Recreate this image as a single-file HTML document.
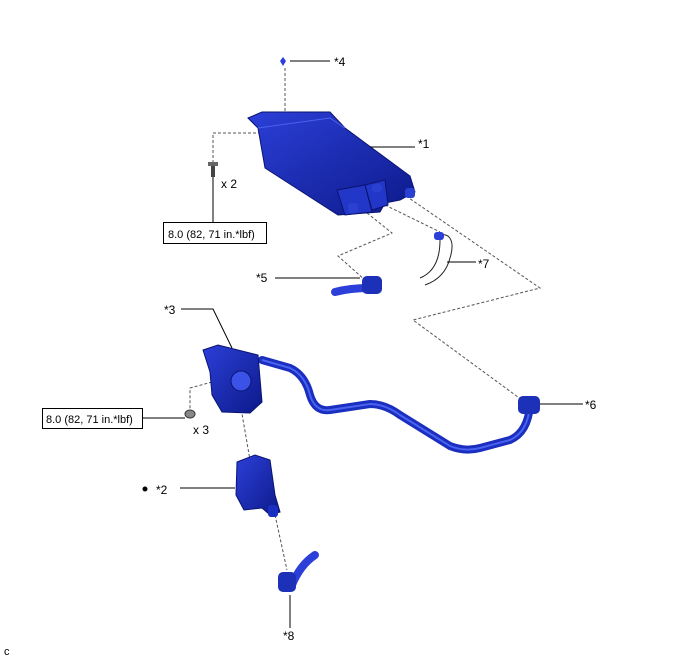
<!DOCTYPE html>
<html><head><style>
body{margin:0;background:#fff;}
svg{display:block;font-family:"Liberation Sans",sans-serif;}
</style></head><body>
<svg width="688" height="658" viewBox="0 0 688 658">
<defs>
<linearGradient id="g" x1="0" y1="0" x2="1" y2="1"><stop offset="0" stop-color="#2c3fd8"/><stop offset="1" stop-color="#0c1a8a"/></linearGradient>
</defs>
<g fill="none" stroke="#555" stroke-width="1" stroke-dasharray="3,2">
<path d="M285,68 V120"/>
<path d="M213,163 V133 H262"/>
<path d="M367,213 L392,233 L338,256 L365,280"/>
<path d="M406,196 L540,288 L413,320 L522,400"/>
<path d="M385,205 L440,232"/>
<path d="M212,382 L190,388 V410"/>
<path d="M237,385 L250,460"/>
<path d="M275,515 L287,570"/>
</g>
<!-- canister -->
<path d="M248,118 L262,112 L330,112 L345,128 L372,148 L410,176 L415,192 L400,200 L385,203 L380,212 L338,215 L265,168 L258,128 Z" fill="url(#g)" stroke="#0a1470"/>
<path d="M258,128 L330,118 L345,128" fill="none" stroke="#4a62f0" stroke-width="1"/>
<path d="M337,190 L365,185 L372,212 L345,215 Z" fill="#2236c8" stroke="#0a1470"/>
<path d="M365,185 L385,180 L388,205 L372,210 Z" fill="#2236c8" stroke="#0a1470"/>
<rect x="348" y="203" width="10" height="10" rx="3" fill="#2a40d0"/>
<rect x="372" y="184" width="10" height="8" rx="3" fill="#2a40d0"/>
<rect x="405" y="188" width="10" height="10" rx="3" fill="#2a40d0"/>
<path d="M283,57 l3,4 l-3,5 l-3,-5 Z" fill="#2c3fd8"/>
<!-- bolt -->
<rect x="211" y="163" width="4" height="14" fill="#444"/>
<rect x="208" y="162" width="10" height="4" fill="#666"/>
<!-- hose 7 -->
<path d="M420,278 Q440,270 440,240 Q440,232 448,236 Q455,242 450,258 Q445,278 425,285" fill="none" stroke="#222" stroke-width="1"/>
<rect x="434" y="232" width="10" height="8" rx="3" fill="#2c3fd8"/>
<!-- hose 5 -->
<path d="M335,292 Q350,288 370,288" stroke="#2c3fd8" stroke-width="8" fill="none" stroke-linecap="round"/>
<rect x="362" y="276" width="20" height="18" rx="5" fill="#1d30b8"/>
<!-- tube -->
<path d="M262,360 L290,368 Q305,375 310,395 Q315,412 330,410 L370,404 Q385,404 400,415 L450,446 Q465,452 480,448 L510,440 Q528,432 530,405" fill="none" stroke="#1a2ec0" stroke-width="8" stroke-linecap="round" stroke-linejoin="round"/>
<path d="M262,360 L290,368 Q305,375 310,395 Q315,412 330,410 L370,404 Q385,404 400,415 L450,446 Q465,452 480,448 L510,440 Q528,432 530,405" fill="none" stroke="#4a62f0" stroke-width="2"/>
<rect x="518" y="396" width="22" height="18" rx="5" fill="#1d30b8"/>
<!-- part 3 -->
<path d="M203,350 L218,345 L258,355 L262,402 L250,413 L222,412 L212,395 L210,372 Z" fill="url(#g)" stroke="#0a1470"/>
<circle cx="241" cy="381" r="10" fill="#3a52e8" stroke="#0a1470"/>
<!-- nut -->
<ellipse cx="190" cy="414" rx="5" ry="4" fill="#888" stroke="#333"/>
<!-- part 2 -->
<path d="M237,462 L255,455 L270,460 L275,495 L280,512 L270,515 L262,508 L244,510 L236,495 Z" fill="url(#g)" stroke="#0a1470"/>
<rect x="268" y="505" width="10" height="12" rx="3" fill="#1a2ec0"/>
<!-- hose 8 -->
<path d="M292,585 Q300,565 315,555" stroke="#2c3fd8" stroke-width="8" fill="none" stroke-linecap="round"/>
<rect x="278" y="572" width="18" height="20" rx="5" fill="#1d30b8"/>
<g stroke="#000" stroke-width="1" fill="none">
<path d="M290,61 H330"/>
<path d="M370,147 H415"/>
<path d="M213,177 V222"/>
<path d="M275,278 H360"/>
<path d="M447,262 H476"/>
<path d="M181,309 H213 L232,348"/>
<path d="M540,404 H583"/>
<path d="M142,418 H185"/>
<path d="M180,488 H235"/>
<path d="M290,595 V628"/>
<rect x="163.5" y="222.5" width="103" height="21"/>
<rect x="42.5" y="408.5" width="100" height="20"/>
</g>
<circle cx="145" cy="489" r="2.5" fill="#000"/>
<g font-size="12" fill="#000">
<text x="334" y="66">*4</text>
<text x="418" y="148">*1</text>
<text x="221" y="188">x 2</text>
<text x="168" y="238" font-size="11">8.0 (82, 71 in.*lbf)</text>
<text x="256" y="282">*5</text>
<text x="478" y="268">*7</text>
<text x="164" y="314">*3</text>
<text x="585" y="409">*6</text>
<text x="46" y="423" font-size="11">8.0 (82, 71 in.*lbf)</text>
<text x="193" y="434">x 3</text>
<text x="156" y="494">*2</text>
<text x="283" y="640">*8</text>
<text x="4" y="655" font-size="11">c</text>
</g>
</svg>
</body></html>
